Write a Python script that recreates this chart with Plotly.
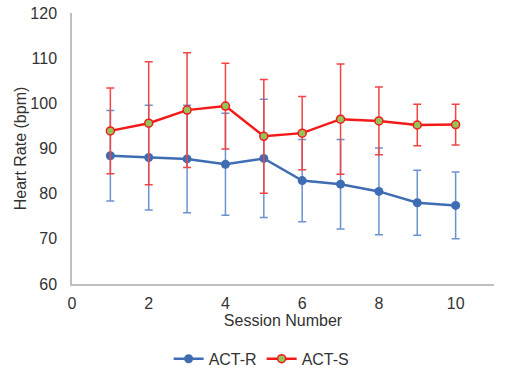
import plotly.graph_objects as go

sessions = [1, 2, 3, 4, 5, 6, 7, 8, 9, 10]
act_r = [88.4, 88.0, 87.7, 86.5, 87.8, 82.9, 82.1, 80.5, 78.0, 77.4]
act_r_sd = [10.0, 11.6, 11.9, 11.3, 13.1, 9.1, 9.9, 9.6, 7.2, 7.4]
act_s = [93.9, 95.6, 98.5, 99.4, 92.7, 93.4, 96.5, 96.1, 95.2, 95.3]
act_s_sd = [9.5, 13.6, 12.7, 9.5, 12.6, 8.1, 12.2, 7.5, 4.6, 4.5]
x_ticks = [0, 2, 4, 6, 8, 10]
y_ticks = [60, 70, 80, 90, 100, 110, 120]

fig = go.Figure()
fig.add_trace(go.Scatter(
    x=sessions, y=act_r, name="ACT-R", mode="lines+markers",
    line=dict(color="#3F6DB3", width=2.5),
    marker=dict(color="#3F6DB3", size=9),
    error_y=dict(type="data", array=act_r_sd, visible=True,
                 color="#6A92CF", thickness=1.5, width=4),
))
fig.add_trace(go.Scatter(
    x=sessions, y=act_s, name="ACT-S", mode="lines+markers",
    line=dict(color="#F51A1A", width=2.5),
    marker=dict(color="#92C45A", size=8, line=dict(color="#F51A1A", width=1.5)),
    error_y=dict(type="data", array=act_s_sd, visible=True,
                 color="#F24444", thickness=1.5, width=4),
))

fig.update_layout(
    width=510, height=373,
    margin=dict(l=72, r=16, t=13, b=89),
    paper_bgcolor="white", plot_bgcolor="white",
    font=dict(family="Liberation Sans, Arial, sans-serif", size=16, color="#333333"),
    showlegend=True,
    legend=dict(orientation="h", xref="container", yref="container",
                x=0.513, xanchor="center", y=0.038, yanchor="middle",
                font=dict(size=16, color="#333333"), itemwidth=30,
                tracegroupgap=0),
)
fig.update_xaxes(
    range=[0, 11], tickvals=x_ticks, showgrid=False, zeroline=False,
    showline=True, linecolor="#BFBFBF", linewidth=1.5,
    ticks="", ticklabelstandoff=4, automargin=False,
    title=dict(text="Session Number", standoff=4, font=dict(size=16)),
)
fig.update_yaxes(
    range=[60, 120], tickvals=y_ticks, showgrid=False, zeroline=False,
    showline=True, linecolor="#BFBFBF", linewidth=1.5,
    ticks="", ticklabelstandoff=10, automargin=False,
    title=dict(text="Heart Rate (bpm)", standoff=0, font=dict(size=16)),
)

fig.write_html("out.html", config={"displayModeBar": False},
               post_script="document.body.style.margin='0';")
